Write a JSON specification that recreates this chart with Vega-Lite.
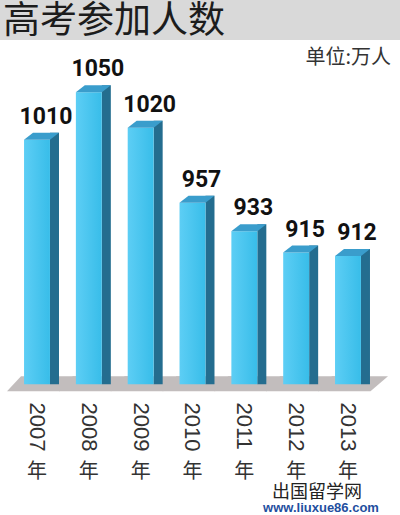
{
  "$schema": "https://vega.github.io/schema/vega-lite/v6.json",
  "padding": 0,
  "background": "white",
  "spacing": 0,
  "bounds": "flush",
  "config": {"view": {"stroke": null}},
  "datasets": {
    "exam": [
      {"year": "2007", "value": 1010},
      {"year": "2008", "value": 1050},
      {"year": "2009", "value": 1020},
      {"year": "2010", "value": 957},
      {"year": "2011", "value": 933},
      {"year": "2012", "value": 915},
      {"year": "2013", "value": 912}
    ],
    "head": [{"t": "高考参加人数"}],
    "mark1": [{"t": "出国留学网"}],
    "mark2": [{"t": "www.liuxue86.com"}]
  },
  "vconcat": [
    {
      "width": 400,
      "height": 40,
      "view": {"fill": "#d9d9d9", "stroke": null},
      "data": {"name": "head"},
      "mark": {"type": "text", "align": "left", "baseline": "middle", "dx": -197, "dy": 2, "fontSize": 37, "font": "Noto Sans CJK SC", "color": "#1c1c1c"},
      "encoding": {"text": {"field": "t"}}
    },
    {
      "width": 400,
      "height": 355,
      "title": {"text": "单位:万人", "anchor": "end", "offset": -28, "dx": -9, "fontSize": 20, "fontWeight": "normal", "font": "Noto Sans CJK SC", "color": "#333333"},
      "data": {"name": "exam"},
      "layer": [
        {
          "mark": {"type": "point", "shape": "M-30,7L22.5,7L40,-8L-16,-8Z", "size": 4, "filled": true, "opacity": 1, "color": "#c2bdbd", "strokeWidth": 0},
          "encoding": {
            "x": {"field": "year", "type": "nominal", "scale": {"type": "band", "paddingInner": 0.5, "paddingOuter": 0.6087, "align": 0.381},
              "axis": {"orient": "bottom", "title": null, "domain": false, "ticks": false, "grid": false, "labelAngle": 90, "labelAlign": "left", "labelBaseline": "middle", "labelPadding": 7, "labelFontSize": 22, "labelFont": "Liberation Sans", "labelColor": "#333333"}},
            "y": {"datum": 804, "type": "quantitative", "scale": {"domain": [795, 1094], "zero": false, "nice": false}, "axis": null}
          }
        },
        {
          "mark": {"type": "bar", "width": 9, "xOffset": 17.5, "yOffset": -7, "color": "#246d8f"},
          "encoding": {
            "x": {"field": "year", "type": "nominal", "axis": null},
            "y": {"field": "value", "type": "quantitative", "axis": null},
            "y2": {"datum": 804}
          }
        },
        {
          "mark": {"type": "bar", "fill": {"gradient": "linear", "x1": 0, "x2": 1, "y1": 0, "y2": 0, "stops": [{"offset": 0, "color": "#5dcef5"}, {"offset": 1, "color": "#38bde9"}]}},
          "encoding": {
            "x": {"field": "year", "type": "nominal", "axis": null},
            "y": {"field": "value", "type": "quantitative", "axis": null},
            "y2": {"datum": 804}
          }
        },
        {
          "mark": {"type": "point", "shape": "M-13,0L13,0L22,-7L-4,-7Z", "size": 4, "filled": true, "opacity": 1, "color": "#3a9dcc", "strokeWidth": 0},
          "encoding": {
            "x": {"field": "year", "type": "nominal", "axis": null},
            "y": {"field": "value", "type": "quantitative", "axis": null}
          }
        },
        {
          "mark": {"type": "text", "dx": 9, "dy": -16, "baseline": "alphabetic", "align": "center", "fontSize": 23, "fontWeight": "bold", "font": "Roboto", "color": "#111111"},
          "encoding": {
            "x": {"field": "year", "type": "nominal",
              "axis": {"orient": "bottom", "title": null, "domain": false, "ticks": false, "grid": false, "labelExpr": "'年'", "labelAngle": 0, "labelAlign": "center", "labelBaseline": "top", "labelPadding": 66, "labelFontSize": 20, "labelFont": "Noto Sans CJK SC", "labelColor": "#333333"}},
            "y": {"field": "value", "type": "quantitative", "axis": null},
            "text": {"field": "value", "type": "quantitative"}
          }
        }
      ],
      "resolve": {"axis": {"x": "independent"}}
    },
    {
      "width": 400,
      "height": 120,
      "layer": [
        {
          "data": {"name": "mark1"},
          "mark": {"type": "text", "align": "center", "baseline": "middle", "dx": 117, "dy": 38, "fontSize": 18, "font": "Noto Sans CJK SC", "color": "#222222"},
          "encoding": {"text": {"field": "t"}}
        },
        {
          "data": {"name": "mark2"},
          "mark": {"type": "text", "align": "center", "baseline": "middle", "dx": 121, "dy": 53, "fontSize": 13, "fontWeight": "bold", "font": "Liberation Sans", "color": "#1f4fa0"},
          "encoding": {"text": {"field": "t"}}
        }
      ]
    }
  ]
}
